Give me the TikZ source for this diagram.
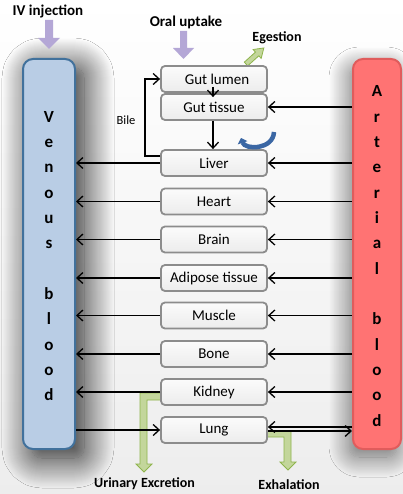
\documentclass[tikz,border=0pt]{standalone}
\usepackage{fontspec}
\setmainfont{Carlito}
\usetikzlibrary{arrows.meta,shadows.blur,calc}

\definecolor{venfill}{HTML}{B9CDE5}
\definecolor{venline}{HTML}{41719C}
\definecolor{artfill}{HTML}{FF7373}
\definecolor{artline}{HTML}{E05C5C}
\definecolor{boxline}{HTML}{8C8C8C}
\definecolor{dosefill}{HTML}{B4A7D6}
\definecolor{outfill}{HTML}{C3D69B}
\definecolor{outline}{HTML}{8EB44C}
\definecolor{turnblue}{HTML}{3B67A4}

\tikzset{
  organ/.style={draw=boxline, line width=1.8pt, rounded corners=4pt,
    top color=gray!3, bottom color=gray!15,
    minimum width=106pt, minimum height=26pt, inner sep=0pt,
    font=\fontsize{15}{18}\selectfont},
  bloodbox/.style={line width=2pt, rounded corners=10pt, inner sep=0pt,
    minimum height=390pt},
  bloodtext/.style={align=center, font=\fontsize{17}{25.35}\selectfont\bfseries},
  flow/.style={line width=1.3pt, -{Straight Barb[length=6pt,width=11pt]}},
  dose/.style={fill=dosefill},
  outflow/.style={fill=outfill, draw=outline, line width=0.8pt},
  turn/.style={draw=turnblue, line width=4.5pt, -{Triangle[length=5pt,width=10pt]}},
  title/.style={font=\fontsize{15}{18}\selectfont\bfseries},
  sublabel/.style={font=\fontsize{14}{17}\selectfont\bfseries},
}

\begin{document}
\begin{tikzpicture}[x=1pt,y=-1pt]
\useasboundingbox (0,0) rectangle (403,494);
% paper background
\shade[top color=white, bottom color=gray!14] (0,0) rectangle (403,494);

% soft shadows under the blood pools
\path[blur shadow={shadow xshift=9pt, shadow yshift=-9pt,
      shadow blur radius=30pt, shadow blur steps=30, shadow opacity=90},
      rounded corners=10pt] (23,59) rectangle (75,449);
\path[blur shadow={shadow xshift=-4pt, shadow yshift=-8pt,
      shadow blur radius=20pt, shadow blur steps=24, shadow opacity=55},
      rounded corners=10pt] (353,59) rectangle (401,449);

% blood pools
\node[bloodbox, draw=venline, fill=venfill, minimum width=52pt] (ven) at (49,254) {};
\node[bloodbox, draw=artline, fill=artfill, minimum width=48pt] (art) at (377,254) {};
\node[bloodtext] at (49,256) {V\\e\\n\\o\\u\\s\\ \\b\\l\\o\\o\\d};
\node[bloodtext] at (377,256) {A\\r\\t\\e\\r\\i\\a\\l\\ \\b\\l\\o\\o\\d};

% elimination routes (behind the organ boxes)
\path[outflow] (161,393) -- (140,393) -- (140,464) -- (136,464) -- (144,472)
  -- (152,464) -- (147,464) -- (147,400) -- (161,400) -- cycle;
\path[outflow] (267,431) -- (291,431) -- (291,462) -- (296,462) -- (288,470)
  -- (280,462) -- (284,462) -- (284,437) -- (267,437) -- cycle;
\begin{scope}[shift={(246,64)}, rotate=42]
  \path[outflow] (0,-2.5) -- (15,-2.5) -- (15,-6) -- (24,0) -- (15,6) -- (15,2.5) -- (0,2.5) -- cycle;
\end{scope}

% dosing routes
\path[dose] (45,20) -- (53,20) -- (53,38) -- (60,38) -- (49,49) -- (38,38) -- (45,38) -- cycle;
\path[dose] (180,31) -- (187,31) -- (187,48) -- (194,48) -- (183.5,59) -- (173,48) -- (180,48) -- cycle;

% organ compartments
\node[organ] (glumen)  at (214,79)    {\hspace*{6pt}Gut lumen};
\node[organ] (gtissue) at (214,107)   {Gut tissue};
\node[organ] (liver)   at (214,163)   {Liver};
\node[organ] (heart)   at (214,201.5) {Heart};
\node[organ] (brain)   at (214,239.5) {Brain};
\node[organ] (adipose) at (214,278)   {Adipose tissue};
\node[organ] (muscle)  at (214,315.5) {Muscle};
\node[organ] (bone)    at (214,354)   {Bone};
\node[organ] (kidney)  at (214,392)   {Kidney};
\node[organ] (lung)    at (214,430)   {Lung};

% arterial supply
\foreach \o in {gtissue,liver,heart,brain,adipose,muscle,bone,kidney}
  \draw[flow] (art.west |- \o.east) -- (\o.east);
% venous return
\foreach \o in {liver,heart,brain,adipose,muscle,bone,kidney}
  \draw[flow] (\o.west) -- (ven.east |- \o.west);

% lung circulation
\draw[flow] (ven.east |- lung.west) -- (lung.west);
\draw[flow] ($(art.west |- lung.east)+(0,-3)$) -- ($(lung.east)+(0,-3)$);
\draw[flow] ($(lung.east)+(0,1)$) -- ($(art.west |- lung.east)+(0,1)$);

% gut to liver
\draw[flow] ($(glumen.south)+(-1,-6)$) -- ($(gtissue.north)+(-1,4)$);
\draw[flow] ($(gtissue.south)+(-1,0)$) -- ($(liver.north)+(-1,0)$);
\draw[flow] ($(liver.north west)+(0,7)$) -- ++(-15,0) |- (glumen.west);
\node[font=\fontsize{12.5}{15}\selectfont] (bile) at (126,120) {Bile};

% hepatic recirculation
\draw[turn] (274,132) .. controls (273,150) and (245,150) .. (241,138);

% labels
\node[title] (ivlab) at (48,11) {IV injection};
\node[title] (orallab) at (186,22) {Oral uptake};
\node[sublabel] (egelab) at (277,38) {Egestion};
\node[sublabel] (urilab) at (144.5,484) {Urinary Excretion};
\node[sublabel] (exhlab) at (289,485) {Exhalation};
\end{tikzpicture}
\end{document}
